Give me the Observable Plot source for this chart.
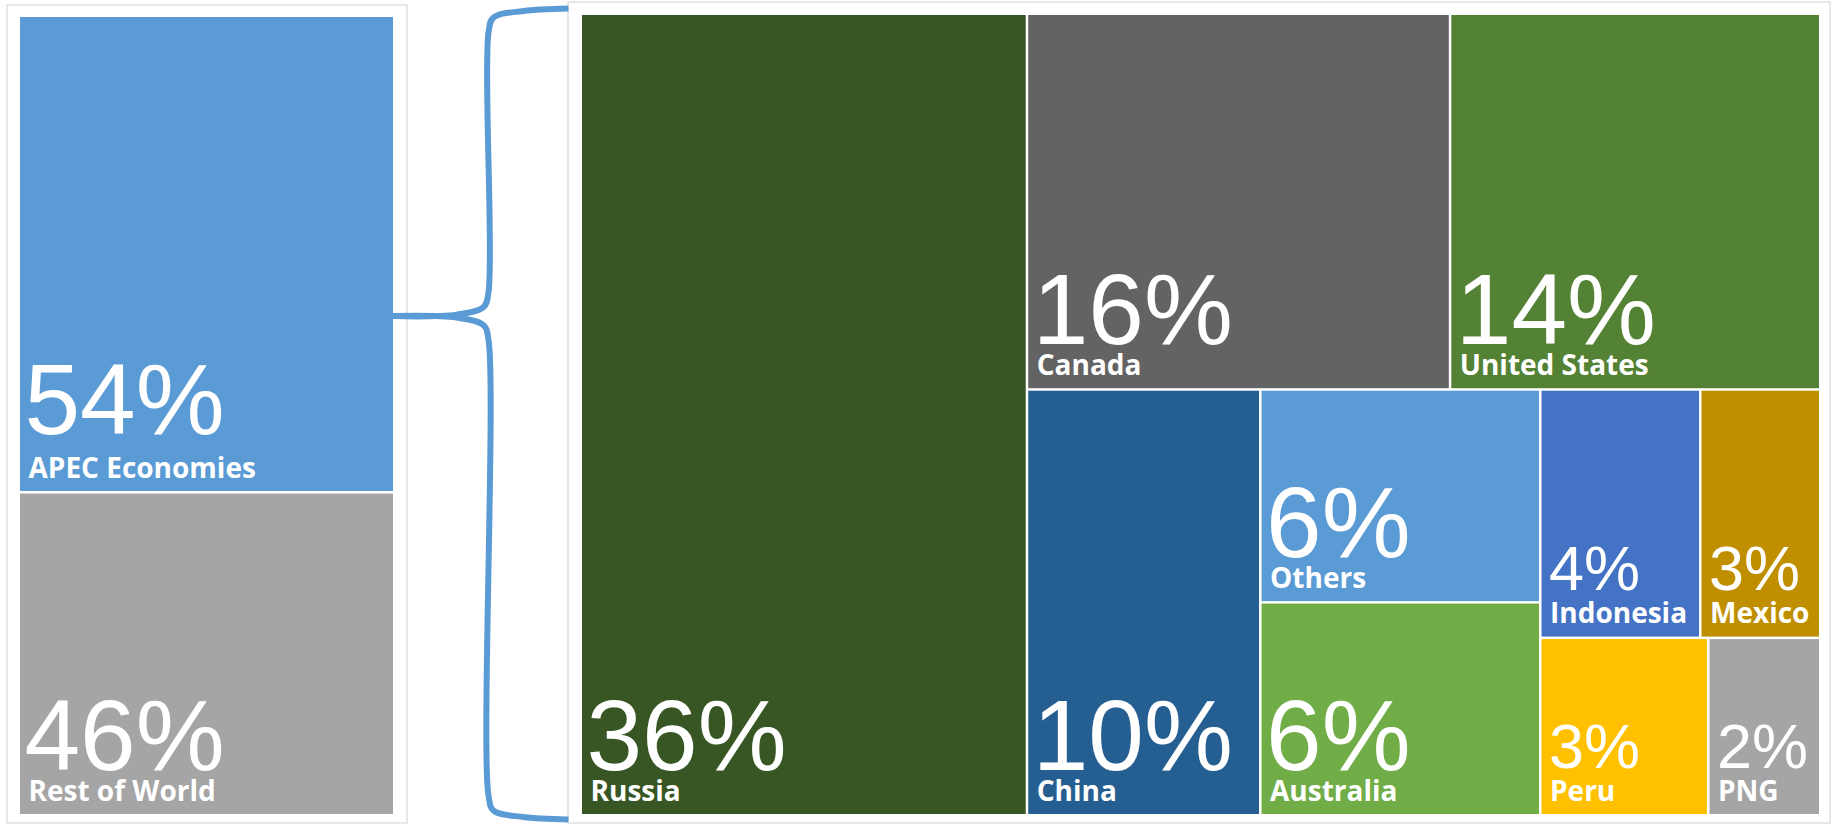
<!DOCTYPE html>
<html>
<head>
<meta charset="utf-8">
<script src="https://cdn.jsdelivr.net/npm/d3@7"></script>
<script src="https://cdn.jsdelivr.net/npm/@observablehq/plot@0.6"></script>
<style>
  html, body { margin: 0; padding: 0; background: #ffffff; }
  #chart { width: 1831px; height: 825px; }
</style>
</head>
<body>
<div id="chart"></div>
<script>
// ---------------- DATA ----------------
// Left panel: world split
const regionNames = ["APEC Economies", "Rest of World"];
const regionPct = [54, 46];               // printed percentages
const regionBlockShare = [59.6, 40.4];    // block heights as drawn in the reference picture

// Right panel: breakdown of the APEC economies
const economyNames = ["Russia", "Canada", "United States", "China", "Others", "Australia", "Indonesia", "Mexico", "Peru", "PNG"];
const economyPct = [36, 16, 14, 10, 6, 6, 4, 3, 3, 2];

// Colours
const regionColors = ["#5B9BD5", "#A5A5A5"];
const economyColors = ["#375623", "#636363", "#548235", "#255E91", "#5B9BD5", "#70AD47", "#4472C4", "#BF8F00", "#FFC000", "#A5A5A5"];

// ---------------- LAYOUT / STYLE ----------------
const W = 1831, H = 825;
const layout = {
  leftFrame:  {x0: 7,   y0: 5,  x1: 407,  y1: 823},
  leftBar:    {x0: 20,  y0: 17, x1: 393,  y1: 814},
  rightFrame: {x0: 568, y0: 2,  x1: 1830, y1: 823},
  treeBox:    {x0: 582, y0: 15, x1: 1819, y1: 814},
  braceX: 488, braceTop: 8, braceBottom: 819, braceTipFrac: 0.63,
  gap: 2.5,
  smallCellWidth: 200
};
const pctOffset = {default: -45, "APEC Economies": -58};

// Left bar: slice layout of the two regions
const regionRows = regionNames.map((name, i) => ({name, pct: regionPct[i], share: regionBlockShare[i]}));
const lb = layout.leftBar;
const leftRoot = d3.hierarchy({children: regionRows}).sum(d => d.share || 0);
d3.treemap().tile(d3.treemapSlice).size([lb.x1 - lb.x0, lb.y1 - lb.y0]).paddingInner(layout.gap).round(false)(leftRoot);
const leftCells = leftRoot.leaves().map(n => ({
  name: n.data.name, pct: n.data.pct,
  x0: lb.x0 + n.x0, x1: lb.x0 + n.x1, y0: lb.y0 + n.y0, y1: lb.y0 + n.y1
}));

// Right treemap: squarified layout of the economies
const economyRows = economyNames.map((name, i) => ({name, pct: economyPct[i]}));
const tb = layout.treeBox;
const treeRoot = d3.hierarchy({children: economyRows}).sum(d => d.pct || 0);
d3.treemap().tile(d3.treemapSquarify.ratio(1.08)).size([tb.x1 - tb.x0, tb.y1 - tb.y0]).paddingInner(layout.gap).round(false)(treeRoot);
const treeCells = treeRoot.leaves().map(n => ({
  name: n.data.name, pct: n.data.pct,
  x0: tb.x0 + n.x0, x1: tb.x0 + n.x1, y0: tb.y0 + n.y0, y1: tb.y0 + n.y1
}));

const allCells = [...leftCells, ...treeCells];
const bigCells = allCells.filter(d => d.x1 - d.x0 >= layout.smallCellWidth);
const smallCells = allCells.filter(d => d.x1 - d.x0 < layout.smallCellWidth);
const pctY = d => d.y1 + (pctOffset[d.name] ?? pctOffset.default);

// Brace joining the APEC block to the treemap
const apec = leftCells[0];
const bx = layout.braceX, bt = layout.braceTop, bbm = layout.braceBottom;
const tipY = apec.y0 + layout.braceTipFrac * (apec.y1 - apec.y0);
const sx = apec.x1 - 1, ex = layout.rightFrame.x0;
const bracePts = [
  {part: "up", x: ex, y: bt}, {part: "up", x: bx + 35, y: bt + 2.5}, {part: "up", x: bx + 5, y: bt + 9},
  {part: "up", x: bx, y: bt + 24}, {part: "up", x: bx, y: tipY - 24}, {part: "up", x: bx - 5, y: tipY - 9},
  {part: "up", x: bx - 32, y: tipY - 1.5}, {part: "up", x: sx, y: tipY},
  {part: "down", x: sx, y: tipY}, {part: "down", x: bx - 32, y: tipY + 1.5}, {part: "down", x: bx - 5, y: tipY + 9},
  {part: "down", x: bx, y: tipY + 24}, {part: "down", x: bx, y: bbm - 24}, {part: "down", x: bx + 5, y: bbm - 9},
  {part: "down", x: bx + 35, y: bbm - 2.5}, {part: "down", x: ex, y: bbm}
];

const frames = [layout.leftFrame, layout.rightFrame];

const chart = Plot.plot({
  width: W, height: H, margin: 0,
  x: {domain: [0, W], range: [0, W], axis: null},
  y: {domain: [0, H], range: [0, H], axis: null},
  color: {domain: [...regionNames, ...economyNames], range: [...regionColors, ...economyColors]},
  style: {background: "#ffffff", overflow: "visible"},
  marks: [
    Plot.rect(frames, {x1: "x0", x2: "x1", y1: "y0", y2: "y1", fill: "none", stroke: "#DCDCDC", strokeWidth: 1.3}),
    Plot.rect(allCells, {x1: "x0", x2: "x1", y1: "y0", y2: "y1", fill: "name"}),
    Plot.line(bracePts, {x: "x", y: "y", z: "part", stroke: "#5B9BD5", strokeWidth: 6, curve: "catmull-rom", strokeLinecap: "butt"}),
    Plot.text(bigCells, {x: "x0", y: pctY, text: d => d.pct + "%", dx: 4, textAnchor: "start", lineAnchor: "bottom",
      fill: "white", fontSize: 100, fontFamily: "'Liberation Sans', Arial, sans-serif"}),
    Plot.text(smallCells, {x: "x0", y: d => d.y1 - 47, text: d => d.pct + "%", dx: 7, textAnchor: "start", lineAnchor: "bottom",
      fill: "white", fontSize: 63, fontFamily: "'Liberation Sans', Arial, sans-serif"}),
    Plot.text(allCells, {x: "x0", y: "y1", text: "name", dx: 8, dy: -14, textAnchor: "start", lineAnchor: "bottom",
      fill: "white", fontSize: 28, fontWeight: "bold", fontFamily: "'Open Sans', 'Noto Sans', sans-serif"})
  ]
});
document.getElementById("chart").appendChild(chart);
</script>
</body>
</html>
